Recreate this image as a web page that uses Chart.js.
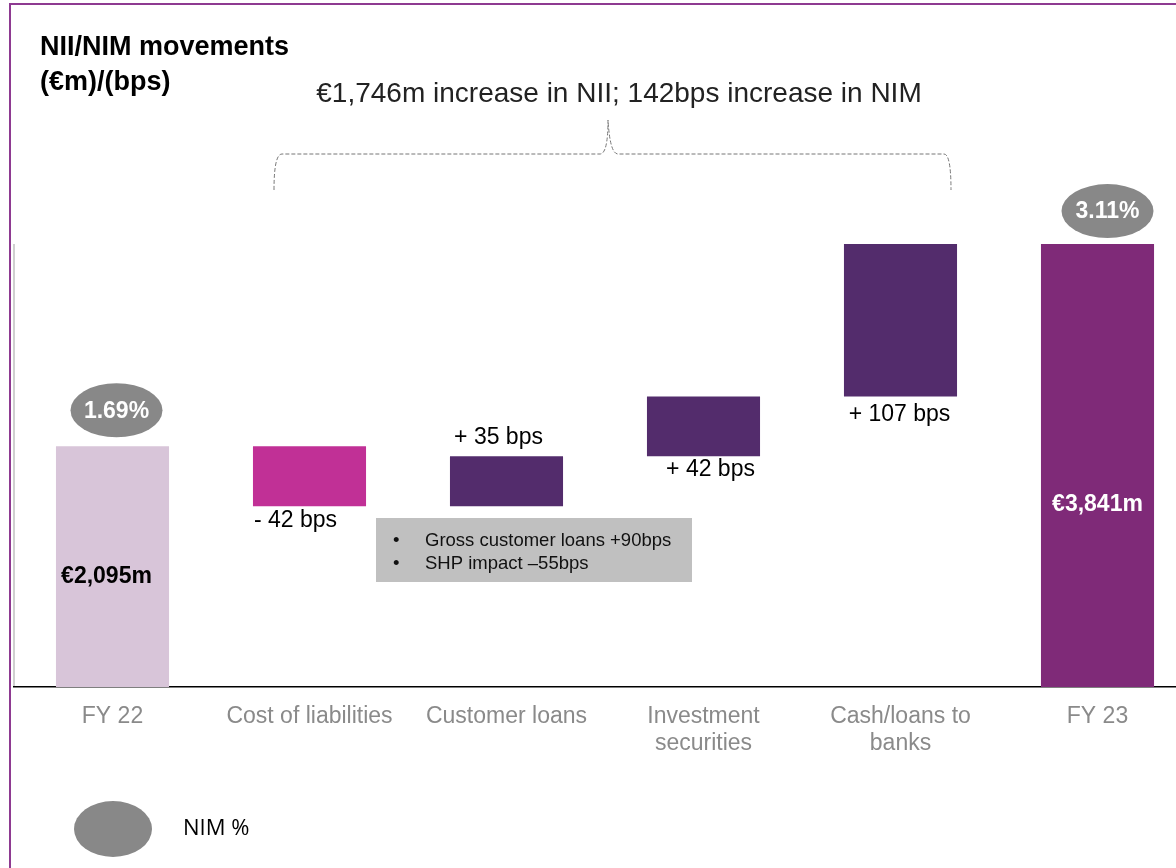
<!DOCTYPE html>
<html>
<head>
<meta charset="utf-8">
<script src="https://cdn.jsdelivr.net/npm/chart.js@4"></script>
<style>
  html, body { margin: 0; padding: 0; background: #fff; overflow: hidden; }
  #wrap { position: absolute; left: 0; top: 0; width: 1200px; height: 868px; }
</style>
</head>
<body>
<div id="wrap"><canvas id="nim-chart" width="1200" height="868"></canvas></div>
<script>
/* ---------- Data ---------- */
const categories = ['FY 22', 'Cost of liabilities', 'Customer loans', ['Investment', 'securities'], ['Cash/loans to', 'banks'], 'FY 23'];
const nimStart = 1.69;                 // NIM % FY22
const movementsBps = [-42, 35, 42, 107]; // bps movements
const nimEnd = 3.11;                   // NIM % FY23
const niiLabels = ['€2,095m', '€3,841m'];
const moveLabels = ['- 42 bps', '+ 35 bps', '+ 42 bps', '+ 107 bps'];
const noteLines = ['Gross customer loans +90bps', 'SHP impact \u201355bps'];
const barColors = ['#d8c5d9', '#c13096', '#532c6c', '#532c6c', '#532c6c', '#7f2a78'];

/* ---------- Build floating bars ---------- */
const ranges = [[0, nimStart]];
let level = nimStart;
movementsBps.forEach(m => {
  const next = Math.round((level + m / 100) * 100) / 100;
  ranges.push([Math.min(level, next), Math.max(level, next)]);
  level = next;
});
ranges.push([0, nimEnd]);

const FONT = '"Liberation Sans", Arial, sans-serif';

function ellipse(ctx, cx, cy, rx, ry, color) {
  ctx.beginPath();
  ctx.ellipse(cx, cy, rx, ry, 0, 0, Math.PI * 2);
  ctx.fillStyle = color;
  ctx.fill();
}

/* ---------- Decorations ---------- */
const decor = {
  id: 'decor',
  beforeDraw(chart) {
    const { ctx } = chart;
    const y = chart.scales.y;
    ctx.save();
    // light y axis line up to FY23 level
    ctx.strokeStyle = '#d0d0d0';
    ctx.lineWidth = 2;
    ctx.beginPath();
    ctx.moveTo(14, y.getPixelForValue(nimEnd));
    ctx.lineTo(14, y.getPixelForValue(0));
    ctx.stroke();
    ctx.restore();
  },
  afterDraw(chart) {
    const { ctx } = chart;
    const x = chart.scales.x;
    const y = chart.scales.y;
    ctx.save();

    // frame
    ctx.strokeStyle = '#8e3a91';
    ctx.lineWidth = 2;
    ctx.beginPath();
    ctx.moveTo(10, 868);
    ctx.lineTo(10, 4);
    ctx.lineTo(1200, 4);
    ctx.stroke();

    // title
    ctx.fillStyle = '#000';
    ctx.font = 'bold 27px ' + FONT;
    ctx.textAlign = 'left';
    ctx.textBaseline = 'middle';
    ctx.fillText('NII/NIM movements', 40, 48);
    ctx.fillText('(€m)/(bps)', 40, 83);

    // headline
    ctx.font = '28px ' + FONT;
    ctx.fillStyle = '#222';
    ctx.textAlign = 'center';
    ctx.fillText('€1,746m increase in NII; 142bps increase in NIM', 619, 94);

    // brace
    ctx.strokeStyle = '#777';
    ctx.lineWidth = 1;
    ctx.setLineDash([4, 2]);
    ctx.beginPath();
    ctx.moveTo(274, 190);
    ctx.quadraticCurveTo(274, 154, 282, 154);
    ctx.lineTo(600, 154);
    ctx.quadraticCurveTo(608, 154, 608, 120);
    ctx.quadraticCurveTo(610, 154, 618, 154);
    ctx.lineTo(944, 154);
    ctx.quadraticCurveTo(951, 154, 951, 190);
    ctx.stroke();
    ctx.setLineDash([]);

    // NIM ellipses
    const x0 = x.getPixelForValue(0);
    const x5 = x.getPixelForValue(5);
    ellipse(ctx, x0 + 4, y.getPixelForValue(nimStart) - 36, 46, 27, '#888');
    ellipse(ctx, x5 + 10, y.getPixelForValue(nimEnd) - 33, 46, 27, '#888');
    ctx.fillStyle = '#fff';
    ctx.font = 'bold 23px ' + FONT;
    ctx.fillText(nimStart.toFixed(2) + '%', x0 + 4, y.getPixelForValue(nimStart) - 35);
    ctx.fillText(nimEnd.toFixed(2) + '%', x5 + 10, y.getPixelForValue(nimEnd) - 32);

    // NII values
    ctx.font = 'bold 23px ' + FONT;
    ctx.fillStyle = '#000';
    ctx.fillText(niiLabels[0], x0 - 6, 577);
    ctx.fillStyle = '#fff';
    ctx.fillText(niiLabels[1], x5, 505);

    // movement labels
    ctx.font = '23px ' + FONT;
    ctx.fillStyle = '#000';
    const r = ranges;
    ctx.fillText(moveLabels[0], x.getPixelForValue(1) - 14, y.getPixelForValue(r[1][0]) + 15);
    ctx.fillText(moveLabels[1], x.getPixelForValue(2) - 8, y.getPixelForValue(r[2][1]) - 19);
    ctx.fillText(moveLabels[2], x.getPixelForValue(3) + 7, y.getPixelForValue(r[3][0]) + 13);
    ctx.fillText(moveLabels[3], x.getPixelForValue(4) - 1, y.getPixelForValue(r[4][0]) + 18);

    // note box
    ctx.fillStyle = '#c0c0c0';
    ctx.fillRect(376, 518, 316, 64);
    ctx.fillStyle = '#111';
    ctx.font = '18.5px ' + FONT;
    ctx.textAlign = 'left';
    noteLines.forEach((t, i) => {
      ctx.fillText('•', 393, 541 + i * 23);
      ctx.fillText(t, 425, 541 + i * 23);
    });

    // legend
    ellipse(ctx, 113, 829, 39, 28, '#888');
    ctx.fillStyle = '#000';
    ctx.font = '22px "Open Sans", ' + FONT;
    ctx.fillText('NIM %', 183, 829);

    ctx.restore();
  }
};

/* ---------- Chart ---------- */
new Chart(document.getElementById('nim-chart'), {
  type: 'bar',
  data: {
    labels: categories,
    datasets: [{
      data: ranges,
      backgroundColor: barColors,
      borderSkipped: false,
      borderWidth: 0,
      barPercentage: 0.574,
      categoryPercentage: 1,
    }],
  },
  options: {
    responsive: false,
    animation: false,
    layout: { padding: { left: 14, right: 4, top: 39, bottom: 0 } },
    plugins: { legend: { display: false }, tooltip: { enabled: false } },
    scales: {
      x: {
        grid: { display: false, drawTicks: false },
        border: { display: true, color: '#000', width: 1.5 },
        afterFit(scale) { scale.height = 181; },
        ticks: {
          color: '#8a8a8a',
          padding: 16,
          maxRotation: 0,
          autoSkip: false,
          font: { size: 23, family: FONT, lineHeight: 1.18 },
        },
      },
      y: {
        display: false,
        min: 0,
        max: 4.55,
      },
    },
  },
  plugins: [decor],
});
</script>
</body>
</html>
